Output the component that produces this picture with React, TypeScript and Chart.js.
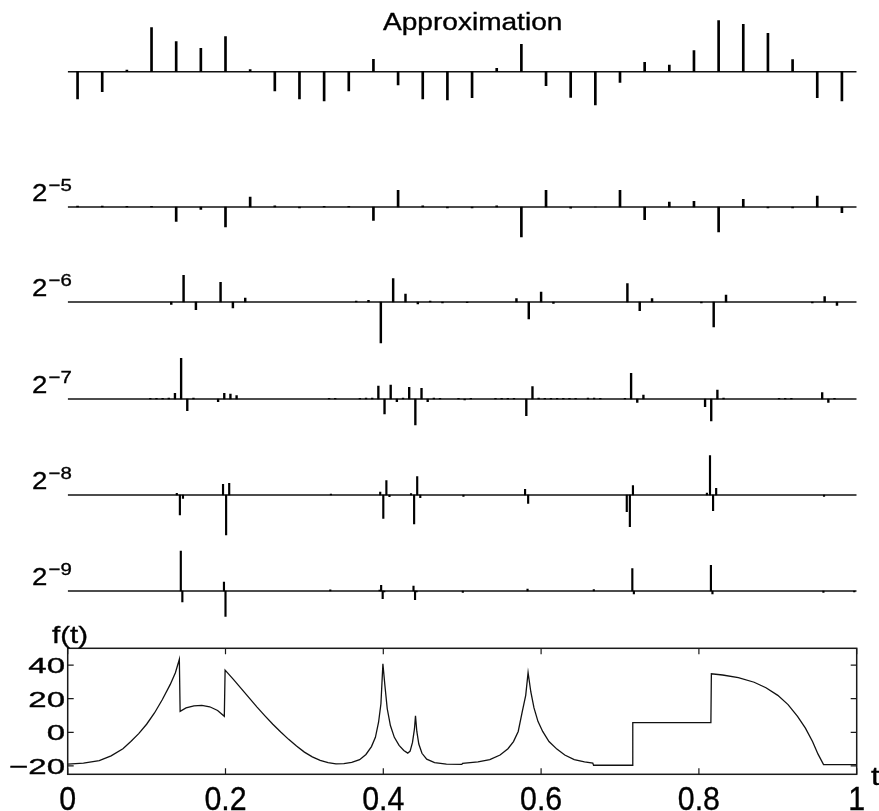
import React, { useEffect, useRef } from "react";
import { Chart, registerables } from "chart.js";
Chart.register(...registerables);

// ---------- data ----------
// Approximation coefficients at scale 2^-5 (32 values)
const APPROX: number[] = [
  -27.3, -20, 1.7, 44, 30, 23.3, 35, 2, -19.3, -27.3, -29.3, -19.3, 12.3, -13.3, -27.3, -28.3,
  -26, 3.3, 27.3, -14, -25.7, -33.3, -10.7, 9.3, 6.7, 21, 51, 47.3, 38.3, 12, -26, -29.3,
];
// Detail coefficients at scale 2^-5 (32 values)
const D5: number[] = [
  0.8, 0.8, 0.6, 0.6, -14.3, -2.5, -20, 10, 1.2, -0.8, 0.6, 0.6, -13.3, 16.7, 1.2, -1,
  -0.8, 1.2, -30, 16.7, -1.2, 0, 16.7, -12.7, 5, 5.7, -25, 7.7, -0.8, -0.8, 11, -5.7,
];
// Sparse detail coefficients [index, value] (others ~0)
const D6: [number, number][] = [
  [8, -2.3], [9, 26.7], [10, -7.7], [12, 19.7], [13, -6], [14, 4], [23, 0.8], [24, 1.7],
  [25, -41], [26, 23.3], [27, 8], [28, -2], [29, 1], [30, -1], [32, -0.6], [36, 3.3],
  [37, -17], [38, 10], [39, -1.5], [45, 18.3], [46, -8.7], [47, 3.3], [51, -0.8], [52, -25],
  [53, 7], [60, -0.8], [61, 5.3], [62, -3.3],
];
const D7: [number, number][] = [
  [13, 0.6], [14, 0.6], [15, 0.6], [16, 0.8], [17, 5.7], [18, 40.7], [19, -11.7], [20, 0.8],
  [24, -2.7], [25, 5.7], [26, 5], [27, 3.3], [42, 0.6], [43, 0.6], [47, 0.6], [48, 0.8],
  [49, 0.8], [50, 13], [51, -15], [52, 14], [53, -2.7], [54, 0.8], [55, 11.7], [56, -26],
  [57, 10.7], [58, -2.7], [59, 0.8], [60, 0.6], [63, 0.6], [64, -0.8], [65, 0.6], [69, 0.6],
  [70, 0.6], [71, 0.6], [72, 0.6], [74, -16.7], [75, 12.3], [76, 1], [77, 0.6], [78, 0.6],
  [79, 0.6], [80, 0.6], [81, 0.6], [82, 0.6], [84, 0.8], [85, 1], [86, 0.6], [90, 0.6],
  [91, 25.7], [92, -3.3], [93, 4], [103, -7.7], [104, -22], [105, 9], [106, 1], [115, 0.6],
  [116, 0.6], [117, 0.6], [122, 6.3], [123, -3.3], [124, 0.6],
];
const D8: [number, number][] = [
  [35, 1.7], [36, -20], [37, -3.3], [50, 10.7], [51, -40], [52, 11.7], [85, 0.8], [101, 3],
  [102, -23.3], [103, 14.3], [104, -1.7], [111, 1.5], [112, -29], [113, 18.3], [114, -2.7],
  [128, -1.3], [148, 5.7], [149, -8.3], [181, -16.7], [182, -31.7], [183, 9.3], [207, 2],
  [208, 39.3], [209, -15.7], [210, 6.7], [245, -1.3],
];
const D9: [number, number][] = [
  [73, 40], [74, -11], [101, 9], [102, -25.3], [170, 1.2], [202, 1], [203, 5.7], [204, -7.7],
  [205, -1], [224, 5], [225, -8.7], [226, -1], [256, -1.5], [298, 2], [341, 1.5], [366, 22.3],
  [367, -3], [417, 25.7], [418, -3], [490, -1.5], [510, -1],
];
// Signal f(t)
const FT_T: number[] = [
  0, 0.02, 0.04, 0.055, 0.07, 0.08, 0.09, 0.1, 0.11, 0.12, 0.13, 0.1365, 0.1415, 0.1425, 0.15,
  0.16, 0.17, 0.18, 0.19, 0.1985, 0.1995, 0.21, 0.22, 0.23, 0.24, 0.25, 0.26, 0.27, 0.28, 0.29,
  0.3, 0.31, 0.32, 0.33, 0.34, 0.35, 0.36, 0.37, 0.378, 0.385, 0.39, 0.394, 0.397, 0.3995,
  0.402, 0.405, 0.409, 0.414, 0.42, 0.426, 0.431, 0.434, 0.437, 0.4395, 0.4408, 0.4425, 0.445,
  0.449, 0.455, 0.465, 0.48, 0.4995, 0.5005, 0.52, 0.535, 0.548, 0.558, 0.565, 0.571, 0.576,
  0.5805, 0.5835, 0.587, 0.591, 0.596, 0.602, 0.61, 0.62, 0.63, 0.642, 0.655, 0.6655, 0.6665,
  0.7155, 0.7162, 0.8152, 0.8158, 0.83, 0.85, 0.87, 0.885, 0.9, 0.913, 0.925, 0.935, 0.944,
  0.951, 0.958, 1,
];
const FT_F: number[] = [
  -19, -18.4, -16.8, -14, -9.8, -5.5, -0.8, 4.8, 11.5, 19.5, 28.5, 35.5, 43.5, 12.5, 14.5,
  15.7, 16, 15.2, 13, 9.5, 37, 31.5, 26, 20.5, 15, 9.8, 4.8, 0.2, -4.2, -8.2,
  -11.8, -14.6, -16.7, -18.1, -18.8, -18.6, -17.9, -16.3, -13.2, -8.5, -3, 6, 17, 40.8,
  28, 14, 4, -3, -7.8, -10.8, -12.4, -11.2, -6, 2, 9.8, 0.5, -7,
  -12.5, -16, -18, -18.9, -19.1, -18.5, -17.6, -16.2, -13.5, -9.8, -5.5, 0.5, 12,
  22, 35.5, 24, 14.5, 6.5, 0.5, -5.5, -10, -13.5, -16.2, -17.6, -18.3, -19.6,
  -19.6, 5.8, 5.8, 34.8, 34.1, 32.5, 29.8, 26.5, 22, 16.5, 9.5, 2.5, -5.5,
  -13, -19.2, -19.2,
];
const X_TICKS: number[] = [0, 0.2, 0.4, 0.6, 0.8, 1];
const X_TICK_LABELS: string[] = ["0", "0.2", "0.4", "0.6", "0.8", "1"];
const Y_TICKS: number[] = [-20, 0, 20, 40];
const Y_TICK_LABELS: string[] = ["\u221220", "0", "20", "40"];

// ---------- layout ----------
const W = 879;
const X_LEFT = 67.7;
const X_RIGHT = 856.7;
const FONT = '"Liberation Sans", Arial, Helvetica, sans-serif';

type Txt = {
  text: string;
  x: number;
  y: number;
  size: number;
  sx?: number;
  align?: "left" | "right" | "center";
};

function drawTexts(ctx: CanvasRenderingContext2D, items: Txt[]) {
  items.forEach((it) => {
    ctx.save();
    ctx.font = `${it.size}px ${FONT}`;
    ctx.fillStyle = "#000";
    ctx.strokeStyle = "#000";
    ctx.lineWidth = 0.35;
    ctx.textBaseline = "alphabetic";
    ctx.textAlign = "left";
    const sx = it.sx ?? 1;
    const w = ctx.measureText(it.text).width * sx;
    let x0 = it.x;
    if (it.align === "right") x0 -= w;
    else if (it.align === "center") x0 -= w / 2;
    ctx.translate(x0, it.y);
    ctx.scale(sx, 1);
    ctx.fillText(it.text, 0, 0);
    ctx.strokeText(it.text, 0, 0);
    ctx.restore();
  });
}

function textPlugin(items: Txt[]) {
  return {
    id: "texts",
    afterDraw(chart: any) {
      drawTexts(chart.ctx, items);
    },
  };
}

type RowProps = {
  baseline: number;
  top: number;
  height: number;
  n: number;
  pairs: [number, number][];
  thick: number;
  texts: Txt[];
};

function StemRow({ baseline, top, height, n, pairs, thick, texts }: RowProps) {
  const ref = useRef<HTMLCanvasElement>(null);
  useEffect(() => {
    const yMax = baseline - top;
    const yMin = -(top + height - baseline);
    const data = pairs.map(([k, v]) => ({ x: (k + 0.4) / n, y: v }));
    const chart = new Chart(ref.current as HTMLCanvasElement, {
      type: "bar",
      data: {
        datasets: [
          {
            type: "line",
            data: [
              { x: 0, y: 0 },
              { x: 1, y: 0 },
            ],
            borderColor: "#111",
            borderWidth: 1.4,
            pointRadius: 0,
            order: 2,
          } as any,
          {
            type: "bar",
            data,
            backgroundColor: "#000",
            borderWidth: 0,
            barThickness: thick,
            order: 1,
          } as any,
        ],
      },
      options: {
        responsive: false,
        animation: false,
        layout: { padding: { left: X_LEFT, right: W - X_RIGHT, top: 0, bottom: 0 } },
        scales: {
          x: { type: "linear", min: 0, max: 1, offset: false, display: false },
          y: { min: yMin, max: yMax, display: false },
        },
        plugins: { legend: { display: false }, tooltip: { enabled: false } },
      } as any,
      plugins: [textPlugin(texts)],
    });
    return () => chart.destroy();
  }, []);
  return (
    <canvas
      ref={ref}
      width={W}
      height={height}
      style={{ position: "absolute", left: 0, top, display: "block" }}
    />
  );
}

function rowLabel(exp: string, rb: number, top: number): Txt[] {
  return [
    { text: "2", x: 32, y: rb - top - 5.6, size: 24, sx: 1.15 },
    { text: "\u2212" + exp, x: 48.5, y: rb - top - 16, size: 17, sx: 1.2 },
  ];
}

function FChart() {
  const ref = useRef<HTMLCanvasElement>(null);
  const top = 600;
  const height = 211;
  useEffect(() => {
    const data = FT_T.map((t, i) => ({ x: t, y: FT_F[i] }));
    const frame = {
      id: "frame",
      afterDraw(chart: any) {
        const ctx: CanvasRenderingContext2D = chart.ctx;
        const a = chart.chartArea;
        const xs = chart.scales.x;
        const ys = chart.scales.y;
        ctx.save();
        ctx.strokeStyle = "#1a1a1a";
        ctx.lineWidth = 1.5;
        ctx.strokeRect(a.left, a.top, a.right - a.left, a.bottom - a.top);
        ctx.lineWidth = 1.2;
        const tl = 6;
        ctx.beginPath();
        X_TICKS.forEach((v) => {
          const px = xs.getPixelForValue(v);
          ctx.moveTo(px, a.bottom);
          ctx.lineTo(px, a.bottom - tl);
          ctx.moveTo(px, a.top);
          ctx.lineTo(px, a.top + tl);
        });
        Y_TICKS.forEach((v) => {
          const py = ys.getPixelForValue(v);
          ctx.moveTo(a.left, py);
          ctx.lineTo(a.left + tl, py);
          ctx.moveTo(a.right, py);
          ctx.lineTo(a.right - tl, py);
        });
        ctx.stroke();
        ctx.restore();
        const items: Txt[] = [];
        X_TICKS.forEach((v, i) => {
          items.push({
            text: X_TICK_LABELS[i],
            x: xs.getPixelForValue(v),
            y: 210,
            size: 33,
            sx: 0.92,
            align: "center",
          });
        });
        Y_TICKS.forEach((v, i) => {
          items.push({
            text: Y_TICK_LABELS[i],
            x: 65,
            y: ys.getPixelForValue(v) + 8,
            size: 22,
            sx: 1.5,
            align: "right",
          });
        });
        items.push({ text: "f(t)", x: 52, y: 43, size: 24.5, sx: 1.2 });
        items.push({ text: "t", x: 871, y: 185, size: 26, sx: 1.2 });
        drawTexts(ctx, items);
      },
    };
    const chart = new Chart(ref.current as HTMLCanvasElement, {
      type: "line",
      data: {
        datasets: [
          {
            data,
            borderColor: "#111",
            borderWidth: 1.3,
            pointRadius: 0,
            tension: 0,
          },
        ],
      },
      options: {
        responsive: false,
        animation: false,
        layout: {
          padding: { left: X_LEFT, right: W - X_RIGHT, top: 648.3 - top, bottom: top + height - 774.3 },
        },
        scales: {
          x: { type: "linear", min: 0, max: 1, display: false },
          y: { min: -25, max: 50, display: false },
        },
        plugins: { legend: { display: false }, tooltip: { enabled: false } },
      } as any,
      plugins: [frame],
    });
    return () => chart.destroy();
  }, []);
  return (
    <canvas
      ref={ref}
      width={W}
      height={height}
      style={{ position: "absolute", left: 0, top, display: "block" }}
    />
  );
}

const toPairs = (arr: number[]): [number, number][] => arr.map((v, k) => [k, v]);

export default function App() {
  const rows = [
    { key: "d5", rb: 206.7, n: 32, pairs: toPairs(D5), thick: 2, exp: "5" },
    { key: "d6", rb: 302.3, n: 64, pairs: D6, thick: 1.8, exp: "6" },
    { key: "d7", rb: 399, n: 128, pairs: D7, thick: 1.7, exp: "7" },
    { key: "d8", rb: 495, n: 256, pairs: D8, thick: 1.5, exp: "8" },
    { key: "d9", rb: 590.7, n: 512, pairs: D9, thick: 1.5, exp: "9" },
  ];
  return (
    <div
      style={{
        position: "absolute",
        left: 0,
        top: 0,
        width: W,
        height: 811,
        background: "#fff",
        overflow: "hidden",
      }}
    >
      <StemRow
        baseline={71.7}
        top={0}
        height={130}
        n={32}
        pairs={toPairs(APPROX)}
        thick={2}
        texts={[{ text: "Approximation", x: 383, y: 29.5, size: 23, sx: 1.22 }]}
      />
      {rows.map((r) => (
        <StemRow
          key={r.key}
          baseline={r.rb}
          top={r.rb - 55}
          height={100}
          n={r.n}
          pairs={r.pairs}
          thick={r.thick}
          texts={rowLabel(r.exp, r.rb, r.rb - 55)}
        />
      ))}
      <FChart />
    </div>
  );
}
